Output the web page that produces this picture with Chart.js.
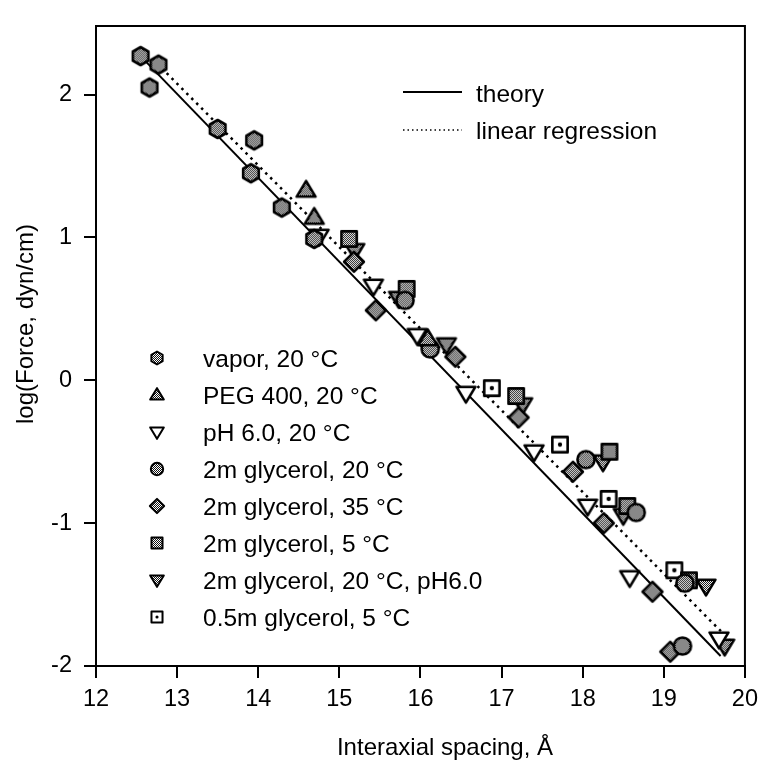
<!DOCTYPE html>
<html>
<head>
<meta charset="utf-8">
<script src="https://cdn.jsdelivr.net/npm/chart.js@4.4.0/dist/chart.umd.min.js"></script>
<style>
body { margin: 0; background: #fff; }
</style>
</head>
<body>
<canvas id="chart" width="765" height="763"></canvas>
<script>
// values
const xTicks = [12, 13, 14, 15, 16, 17, 18, 19, 20];
const yTicks = [-2, -1, 0, 1, 2];
const xTitle = "Interaxial spacing, Å";
const yTitle = "log(Force, dyn/cm)";

const seriesLabels = ["vapor, 20 °C", "PEG 400, 20 °C", "pH 6.0, 20 °C", "2m glycerol, 20 °C",
  "2m glycerol, 35 °C", "2m glycerol, 5 °C", "2m glycerol, 20 °C, pH6.0", "0.5m glycerol, 5 °C"];

const vapor_x = [12.55, 12.66, 12.77, 13.50, 13.95, 13.91, 14.29, 14.69];
const vapor_y = [2.27, 2.05, 2.21, 1.76, 1.68, 1.45, 1.21, 0.99];
const peg_x = [14.59, 14.69, 16.09];
const peg_y = [1.33, 1.14, 0.29];
const ph_x = [14.75, 15.42, 15.96, 16.56, 17.40, 18.06, 18.58, 19.68];
const ph_y = [1.01, 0.66, 0.315, -0.09, -0.50, -0.88, -1.38, -1.81];
const gly20_x = [15.81, 16.12, 18.04, 18.66, 19.26, 19.23];
const gly20_y = [0.56, 0.22, -0.555, -0.925, -1.42, -1.86];
const gly35_x = [15.18, 15.45, 16.43, 17.21, 17.88, 18.26, 18.86, 19.08];
const gly35_y = [0.83, 0.49, 0.165, -0.26, -0.64, -1.00, -1.48, -1.90];
const gly5_x = [15.12, 15.83, 17.18, 18.33, 18.55, 19.31];
const gly5_y = [0.99, 0.64, -0.11, -0.50, -0.88, -1.40];
const gly20ph_x = [15.19, 15.73, 16.32, 17.26, 18.25, 18.50, 19.52, 19.75];
const gly20ph_y = [0.91, 0.575, 0.25, -0.17, -0.57, -0.945, -1.44, -1.86];
const half5_x = [16.88, 17.72, 18.32, 19.13];
const half5_y = [-0.055, -0.45, -0.83, -1.33];

const theory_x = [12.6, 19.7];
const theory_y = [2.24, -1.93];
const regress_x = [12.75, 19.85];
const regress_y = [2.22, -1.84];

const FONT = "'Liberation Sans', Arial, Helvetica, sans-serif";

// grey dither fill like the printed markers
function makePattern() {
  var c = document.createElement("canvas");
  c.width = 2; c.height = 2;
  var g = c.getContext("2d");
  g.fillStyle = "#fff"; g.fillRect(0, 0, 2, 2);
  g.fillStyle = "#111"; g.fillRect(0, 0, 1, 1); g.fillRect(1, 1, 1, 1);
  return g.createPattern(c, "repeat");
}

function makeMarker(shape, s) {
  var c = document.createElement("canvas");
  var n = Math.ceil(s * 2.4) + 6;
  c.width = n; c.height = n;
  var g = c.getContext("2d");
  var m = n / 2;
  g.lineWidth = s > 7 ? 2.6 : 2;
  g.lineJoin = "round";
  g.strokeStyle = "#000";
  g.fillStyle = makePattern();
  g.beginPath();
  if (shape == "hex") {
    for (var i = 0; i < 6; i++) {
      var a = Math.PI / 2 + i * Math.PI / 3;
      g.lineTo(m + s * Math.cos(a), m + s * Math.sin(a));
    }
    g.closePath();
  } else if (shape == "up" || shape == "down" || shape == "downOpen") {
    var d = shape == "up" ? -1 : 1;
    var h = s * 1.75;
    g.moveTo(m, m + d * h * 0.6);
    g.lineTo(m - s * 1.05, m - d * h * 0.4);
    g.lineTo(m + s * 1.05, m - d * h * 0.4);
    g.closePath();
    if (shape == "downOpen") g.fillStyle = "#fff";
  } else if (shape == "circle") {
    g.arc(m, m, s * 0.95, 0, Math.PI * 2);
  } else if (shape == "diamond") {
    var r = s * 1.1;
    g.moveTo(m, m - r); g.lineTo(m + r, m); g.lineTo(m, m + r); g.lineTo(m - r, m);
    g.closePath();
  } else if (shape == "square" || shape == "squareDot") {
    var q = s * 0.85;
    g.rect(m - q, m - q, 2 * q, 2 * q);
    if (shape == "squareDot") g.fillStyle = "#fff";
  }
  g.fill();
  g.stroke();
  if (shape == "squareDot") {
    g.fillStyle = "#000";
    g.beginPath(); g.arc(m, m, s * 0.24, 0, Math.PI * 2); g.fill();
  }
  return c;
}

const shapes = ["hex", "up", "downOpen", "circle", "diamond", "square", "down", "squareDot"];
const seriesX = [vapor_x, peg_x, ph_x, gly20_x, gly35_x, gly5_x, gly20ph_x, half5_x];
const seriesY = [vapor_y, peg_y, ph_y, gly20_y, gly35_y, gly5_y, gly20ph_y, half5_y];

function toPoints(xs, ys) {
  return xs.map(function (x, i) { return { x: x, y: ys[i] }; });
}

var datasets = [];
for (var k = 0; k < shapes.length; k++) {
  datasets.push({
    type: "scatter",
    label: seriesLabels[k],
    data: toPoints(seriesX[k], seriesY[k]),
    pointStyle: makeMarker(shapes[k], 9),
    legendMarker: makeMarker(shapes[k], 6.5),
    showLine: false,
    clip: false,
    order: 1
  });
}
datasets.push({
  type: "line", label: "theory", data: toPoints(theory_x, theory_y),
  borderColor: "#000", borderWidth: 2, pointRadius: 0, fill: false, order: 10
});
datasets.push({
  type: "line", label: "linear regression", data: toPoints(regress_x, regress_y),
  borderColor: "#000", borderWidth: 2.5, borderDash: [2.5, 4.5], pointRadius: 0, fill: false, order: 10
});

const framePlugin = {
  id: "frame",
  beforeDatasetsDraw(chart) {
    var a = chart.chartArea, g = chart.ctx;
    g.save();
    g.strokeStyle = "#000"; g.lineWidth = 2;
    g.beginPath();
    g.moveTo(a.left, a.top); g.lineTo(a.right, a.top); g.lineTo(a.right, a.bottom);
    g.stroke();
    g.restore();
  }
};

const legendPlugin = {
  id: "customLegend",
  afterDraw(chart) {
    var g = chart.ctx;
    g.save();
    g.font = "24.5px " + FONT;
    g.fillStyle = "#000";
    g.textBaseline = "middle";
    // line legend
    g.strokeStyle = "#000"; g.lineWidth = 2;
    g.beginPath(); g.moveTo(403, 92); g.lineTo(462, 92); g.stroke();
    g.fillText("theory", 476, 95);
    g.lineWidth = 1.5; g.setLineDash([1.5, 3]);
    g.beginPath(); g.moveTo(403, 130); g.lineTo(462, 130); g.stroke();
    g.setLineDash([]);
    g.fillText("linear regression", 476, 132);
    // marker legend
    for (var i = 0; i < shapes.length; i++) {
      var y = 358 + i * 37;
      var mk = chart.data.datasets[i].legendMarker;
      g.drawImage(mk, 157 - mk.width / 2, y - mk.height / 2);
      g.fillText(seriesLabels[i], 203, y + 2);
    }
    // axis titles
    g.textAlign = "center";
    g.font = "24px " + FONT;
    g.fillText(xTitle, 445, 748);
    g.translate(26, 324);
    g.rotate(-Math.PI / 2);
    g.fillText(yTitle, 0, 0);
    g.restore();
  }
};

const chart = new Chart(document.getElementById("chart"), {
  data: { datasets: datasets },
  options: {
    responsive: false,
    animation: false,
    layout: { padding: { top: 11, right: 17, left: 0, bottom: 0 } },
    plugins: { legend: { display: false }, tooltip: { enabled: false } },
    scales: {
      x: {
        type: "linear", min: 12, max: 20,
        afterBuildTicks: function (s) { s.ticks = xTicks.map(function (v) { return { value: v }; }); },
        afterFit: function (s) { s.height = 97; },
        grid: { drawOnChartArea: false, tickLength: 12, color: "#000", lineWidth: 2 },
        border: { color: "#000", width: 2 },
        ticks: { color: "#000", font: { size: 23.5, family: FONT }, padding: 7, maxRotation: 0 }
      },
      y: {
        type: "linear", min: -2, max: 2.48,
        afterBuildTicks: function (s) { s.ticks = yTicks.map(function (v) { return { value: v }; }); },
        afterFit: function (s) { s.width = 96; },
        grid: { drawOnChartArea: false, tickLength: 12, color: "#000", lineWidth: 2 },
        border: { color: "#000", width: 2 },
        ticks: { color: "#000", font: { size: 23.5, family: FONT }, padding: 12 }
      }
    }
  },
  plugins: [framePlugin, legendPlugin]
});
</script>
</body>
</html>
